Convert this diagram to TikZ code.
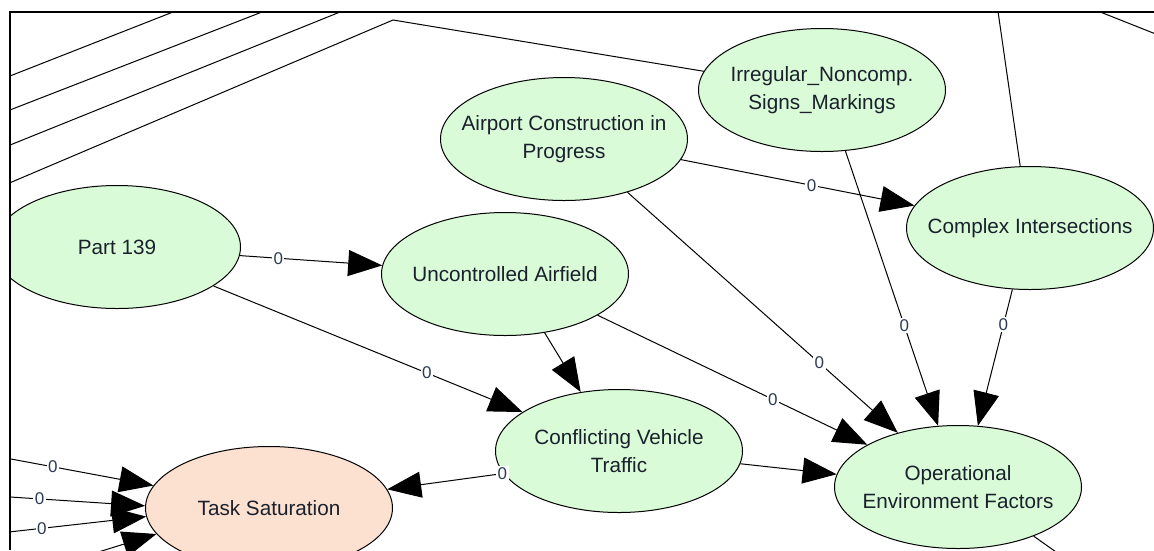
\documentclass[tikz,border=0pt]{standalone}
\usepackage{fontspec}
\setmainfont{Liberation Sans}
\usepackage{tikz}
\usetikzlibrary{shapes.geometric,arrows.meta}
\definecolor{nodegreen}{HTML}{D9FBD7}
\definecolor{nodepeach}{HTML}{FCE0D0}
\definecolor{ink}{HTML}{1A202C}
\definecolor{zero}{HTML}{2E3B55}

\tikzset{
  bnode/.style={ellipse, draw=black, line width=1pt, fill=nodegreen,
    minimum width=247pt, minimum height=123pt, inner sep=0pt},
  peachnode/.style={bnode, fill=nodepeach},
  every label/.style={text=ink, font=\fontsize{20.7}{28}\selectfont, align=center},
  arc/.style={draw=black, line width=1pt, -{Triangle[length=34pt,width=26pt]}},
  wire/.style={draw=black, line width=1pt},
  zerolab/.style={fill=white, text=zero, inner sep=1.5pt, font=\fontsize{17}{17}\selectfont}
}

\begin{document}
\begin{tikzpicture}[x=1pt, y=-1pt]
\useasboundingbox (0,0) rectangle (1154,550);

\begin{scope}
\clip (10,12) rectangle (1154,550);

% Nodes
\node[bnode, label={center:Part 139}] (p139) at (117,247) {};
\node[bnode, label={center:Uncontrolled Airfield}] (unc) at (505,274) {};
\node[bnode, label={center:Airport Construction in\\Progress}] (apc) at (564,139) {};
\node[bnode, label={center:Irregular\_Noncomp.\\Signs\_Markings}] (irr) at (822,90) {};
\node[bnode, label={center:Complex Intersections}] (cxi) at (1030,228) {};
\node[bnode, label={center:Conflicting Vehicle\\Traffic}] (cvt) at (619,451) {};
\node[bnode, label={center:Operational\\Environment Factors}] (oef) at (958,487) {};
\node[peachnode, label={center:Task Saturation}] (tsat) at (269,508) {};

% Ends of arcs running off the sheet
\coordinate (nw1a) at (-40,95.6);  \coordinate (nw1b) at (203.6,0);
\coordinate (nw2a) at (-40,129.4); \coordinate (nw2b) at (292.9,0);
\coordinate (nw3a) at (-40,165.2); \coordinate (nw3b) at (369.8,0);
\coordinate (bend) at (393,20);    \coordinate (nw4) at (-40,204);
\coordinate (ne1) at (993.5,-20);
\coordinate (ne2a) at (1060,-4);   \coordinate (ne2b) at (1200,51.6);
\coordinate (se) at (1090,576);
\coordinate (wa) at (-40,449.5);
\coordinate (wb) at (-40,493.7);
\coordinate (wc) at (-40,537.5);
\coordinate (wd) at (-40,595);

% Arcs between nodes
\draw[arc] (p139.-4.25) -- node[zerolab, pos=0.27] {0} (unc.176.3);
\draw[arc] (p139.-22.6) -- node[zerolab, pos=0.69] {0} (cvt.158.4);
\draw[arc] (apc.-10.1) -- node[zerolab, pos=0.56] {0} (cxi.169.8);
\draw[arc] (apc.-40.6) -- node[zerolab, pos=0.71] {0} (oef.138);
\draw[arc] (irr.-69.6) -- node[zerolab, pos=0.635] {0} (oef.108.2);
\draw[arc] (cxi.-106.1) -- node[zerolab, pos=0.26] {0} (oef.72.7);
\draw[arc] (unc.-56.1) -- (cvt.123.5);
\draw[arc] (unc.-24) -- node[zerolab, pos=0.65] {0} (oef.155);
\draw[arc] (cvt.-6.5) -- (oef.174.4);
\draw[arc] (cvt.-169.4) -- node[zerolab, pos=0.01] {0} (tsat.9.4);

% Arcs into Task Saturation from the left
\draw[arc] (wa) -- node[zerolab, pos=0.48] {0} (tsat.169.3);
\draw[arc] (wb) -- node[zerolab, pos=0.43] {0} (tsat.179.1);
\draw[arc] (wc) -- node[zerolab, pos=0.44] {0} (tsat.184.2);
\draw[arc] (wd) -- (tsat.193.9);

% Lines leaving the sheet
\draw[wire] (nw1a) -- (nw1b);
\draw[wire] (nw2a) -- (nw2b);
\draw[wire] (nw3a) -- (nw3b);
\draw[wire] (irr.171.3) -- (bend) -- (nw4);
\draw[wire] (cxi.99.5) -- (ne1);
\draw[wire] (ne2a) -- (ne2b);
\draw[wire] (oef.-33) -- (se);
\end{scope}

% Sheet border
\draw[line width=2pt] (1154,12) -- (10,12) -- (10,550);
\end{tikzpicture}
\end{document}
